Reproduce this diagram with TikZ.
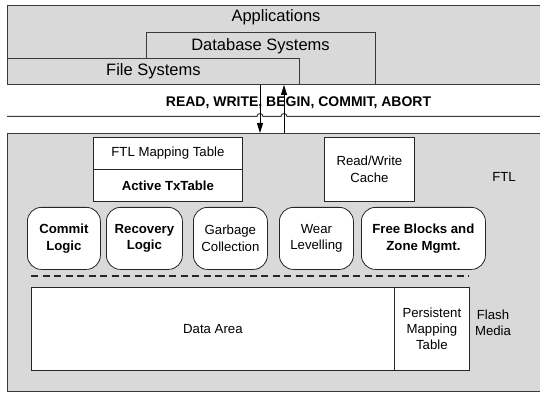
\documentclass[tikz,border=0pt]{standalone}
\usepackage{fontspec}
\setmainfont{Liberation Sans}
\usetikzlibrary{arrows.meta}
\definecolor{panel}{HTML}{D9D9D9}
\definecolor{edge}{HTML}{3A3A3A}
\begin{document}
\begin{tikzpicture}[x=1pt,y=-1pt,
  layerbox/.style={draw=edge, fill=panel, line width=0.9pt, inner sep=0pt, anchor=north west},
  wbox/.style={draw=black!85, fill=white, line width=0.8pt, inner sep=0pt, anchor=north west, align=center, font=\fontsize{13.2}{16.5}\selectfont},
  rbox/.style={wbox, rounded corners=14pt},
  bigtext/.style={font=\fontsize{16.5}{19}\selectfont, inner sep=0pt},
  smalltext/.style={font=\fontsize{13.2}{16.5}\selectfont, align=center, inner sep=0pt},
  arr/.style={draw=black, line width=0.9pt, -{Triangle[length=10pt,width=6pt]}},
  sepline/.style={draw=edge, line width=1pt}
]
\useasboundingbox (0,0) rectangle (540,395);
\clip (0,0) rectangle (540,395);
\fill[white] (0,0) rectangle (540,395);

% upper layers
\node[layerbox, minimum width=540pt, minimum height=79pt] (apps) at (7,5) {};
\node[layerbox, minimum width=229pt, minimum height=52pt] (db) at (146,32) {};
\node[layerbox, minimum width=292pt, minimum height=26pt, bigtext] (fs) at (7,58) {File Systems};
\node[bigtext] (appslabel) at (276,17) {Applications};
\node[bigtext] (dblabel) at (260.5,46) {Database Systems};

% interface line with hops
\coordinate (lineL) at (7,116.5);
\coordinate (lineR) at (545,116.5);
\draw[sepline] (lineL) -- (257,116.5) arc[start angle=180,end angle=0,radius=3pt]
  -- (281,116.5) arc[start angle=180,end angle=0,radius=3pt] -- (lineR);
\node[font=\bfseries\fontsize{14}{16}\selectfont, inner sep=0pt] (api) at (298.5,103) {READ, WRITE, BEGIN, COMMIT, ABORT};

% FTL panel
\node[layerbox, minimum width=540pt, minimum height=258pt] (ftl) at (7,133) {};

\coordinate (dnx) at (260,0);
\coordinate (upx) at (284,0);
\draw[arr] (fs.south -| dnx) -- (ftl.north -| dnx);
\draw[arr] (ftl.north -| upx) -- (fs.south -| upx);

\node[wbox, minimum width=149pt, minimum height=32pt] (map) at (93,137) {FTL Mapping Table};
\node[wbox, minimum width=149pt, minimum height=32pt, font=\bfseries\fontsize{13.2}{16.5}\selectfont] (tx) at (93,169) {Active TxTable};
\node[wbox, minimum width=90pt, minimum height=64pt] (cache) at (324,137) {Read/Write\\Cache};
\node[smalltext] (ftllabel) at (504,177) {FTL};

\node[rbox, minimum width=73pt, minimum height=62pt, font=\bfseries\fontsize{13.2}{16.5}\selectfont] (commit) at (27,207) {Commit\\Logic};
\node[rbox, minimum width=76pt, minimum height=62pt, font=\bfseries\fontsize{13.2}{16.5}\selectfont] (recov) at (106,207) {Recovery\\Logic};
\node[rbox, minimum width=74pt, minimum height=62pt] (gc) at (193,207) {Garbage\\Collection};
\node[rbox, minimum width=74pt, minimum height=62pt] (wear) at (279,207) {Wear\\Levelling};
\node[rbox, minimum width=124pt, minimum height=62pt, font=\bfseries\fontsize{13.2}{16.5}\selectfont] (free) at (361,207) {Free Blocks and\\Zone Mgmt.};

\coordinate (dashL) at (31,276);
\coordinate (dashR) at (469,276);
\draw[draw=black!85, line width=1.1pt, dash pattern=on 7pt off 4.5pt] (dashL) -- (dashR);

\node[wbox, minimum width=363pt, minimum height=83pt] (data) at (31,287) {Data Area};
\node[wbox, minimum width=75pt, minimum height=83pt, font=\fontsize{13.2}{16}\selectfont] (pmt) at (394,287) {Persistent\\Mapping\\Table};
\node[smalltext] (flashlabel) at (493,323) {Flash\\Media};
\end{tikzpicture}
\end{document}
